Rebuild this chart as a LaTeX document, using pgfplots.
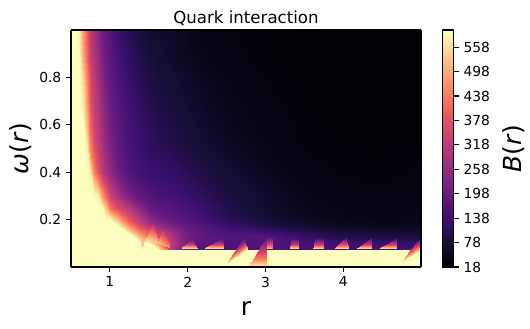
\documentclass[border=0pt]{standalone}
\usepackage{fontspec}
\setmainfont{DejaVu Sans}
\usepackage{pgfplots}
\pgfplotsset{compat=1.18}
\pgfplotsset{
  colormap={magma}{
    rgb255(0)=(0,0,4) rgb255(1)=(20,14,54) rgb255(2)=(59,15,112) rgb255(3)=(100,26,128)
    rgb255(4)=(140,41,129) rgb255(5)=(183,55,121) rgb255(6)=(222,73,104) rgb255(7)=(247,112,92)
    rgb255(8)=(254,159,109) rgb255(9)=(254,207,146) rgb255(10)=(252,253,191)
  }
}
\newcommand{\fs}[1]{\fontsize{#1}{#1}\selectfont}
\begin{document}
\begin{tikzpicture}
\path[use as bounding box] (-51.12bp,-44.64bp) rectangle (330.48bp,192.24bp);
\begin{axis}[
  scale only axis,
  width=252bp, height=170.64bp,
  view={0}{90},
  colormap name=magma,
  xmin=0.5, xmax=5, ymin=0, ymax=1,
  point meta min=18, point meta max=600,
  xtick={1,2,3,4}, ytick={0.2,0.4,0.6,0.8},
  tick pos=left, tick align=outside,
  major tick length=3.5pt,
  tick style={black, line width=0.8pt},
  axis line style={line width=0.8pt},
  axis on top,
  /pgf/number format/assume math mode=true,
  yticklabel style={/pgf/number format/fixed, /pgf/number format/fixed zerofill, /pgf/number format/precision=1},
  tick label style={font=\fs{10}},
  title={Quark interaction},
  title style={font=\fs{12}, yshift=-6.5bp},
  xlabel={r}, xlabel style={font=\fs{18}, yshift=-3.6bp},
  ylabel={\textit{ω}(\textit{r})}, ylabel style={font=\fs{18}}, ylabel shift=-1.5bp,
  colorbar,
  colorbar style={
    at={(parent axis.north east)}, anchor=north west, xshift=7.2bp,
    width=8bp,
    ytick={18,78,138,198,258,318,378,438,498,558},
    ytick pos=right, yticklabel pos=right, tick align=outside,
    major tick length=3.5pt,
    tick style={black, line width=0.8pt},
    axis line style={line width=0.8pt},
    /pgf/number format/assume math mode=true,
    tick label style={font=\fs{10}},
    ylabel={\textit{B}(\textit{r})}, ylabel style={font=\fs{18}}, ylabel shift=2bp,
  },
]
% main field, one line per omega
\addplot3[surf, shader=interp, mesh/cols=26] coordinates {
(0.5,0,600)(0.55,0,600)(0.6,0,600)(0.65,0,600)(0.7,0,600)(0.75,0,600)(0.8,0,600)(0.85,0,600)(0.9,0,600)(0.95,0,600)(1,0,600)(1.1,0,600)(1.2,0,600)(1.3,0,600)(1.4,0,600)(1.5,0,600)(1.6,0,600)(1.8,0,600)(2,0,600)(2.25,0,600)(2.5,0,600)(3,0,600)(3.5,0,600)(4,0,600)(4.5,0,600)(5,0,600)
(0.5,0.03,600)(0.55,0.03,600)(0.6,0.03,600)(0.65,0.03,600)(0.7,0.03,600)(0.75,0.03,600)(0.8,0.03,600)(0.85,0.03,600)(0.9,0.03,600)(0.95,0.03,600)(1,0.03,600)(1.1,0.03,600)(1.2,0.03,600)(1.3,0.03,600)(1.4,0.03,600)(1.5,0.03,600)(1.6,0.03,600)(1.8,0.03,600)(2,0.03,600)(2.25,0.03,600)(2.5,0.03,600)(3,0.03,600)(3.5,0.03,600)(4,0.03,600)(4.5,0.03,600)(5,0.03,600)
(0.5,0.076,600)(0.55,0.076,600)(0.6,0.076,600)(0.65,0.076,600)(0.7,0.076,600)(0.75,0.076,600)(0.8,0.076,600)(0.85,0.076,600)(0.9,0.076,600)(0.95,0.076,600)(1,0.076,600)(1.1,0.076,600)(1.2,0.076,600)(1.3,0.076,600)(1.4,0.076,600)(1.5,0.076,600)(1.6,0.076,600)(1.8,0.076,600)(2,0.076,600)(2.25,0.076,600)(2.5,0.076,600)(3,0.076,600)(3.5,0.076,600)(4,0.076,600)(4.5,0.076,600)(5,0.076,600)
(0.5,0.0765,600)(0.55,0.0765,600)(0.6,0.0765,600)(0.65,0.0765,600)(0.7,0.0765,600)(0.75,0.0765,600)(0.8,0.0765,600)(0.85,0.0765,600)(0.9,0.0765,600)(0.95,0.0765,600)(1,0.0765,600)(1.1,0.0765,600)(1.2,0.0765,600)(1.3,0.0765,600)(1.4,0.0765,600)(1.5,0.0765,600)(1.6,0.0765,600)(1.8,0.0765,300)(2,0.0765,180)(2.25,0.0765,160)(2.5,0.0765,155)(3,0.0765,165)(3.5,0.0765,150)(4,0.0765,150)(4.5,0.0765,145)(5,0.0765,140)
(0.5,0.1,600)(0.55,0.1,600)(0.6,0.1,600)(0.65,0.1,600)(0.7,0.1,600)(0.75,0.1,600)(0.8,0.1,600)(0.85,0.1,600)(0.9,0.1,600)(0.95,0.1,600)(1,0.1,600)(1.1,0.1,600)(1.2,0.1,600)(1.3,0.1,600)(1.4,0.1,600)(1.5,0.1,600)(1.6,0.1,500)(1.8,0.1,320)(2,0.1,200)(2.25,0.1,170)(2.5,0.1,160)(3,0.1,165)(3.5,0.1,150)(4,0.1,140)(4.5,0.1,130)(5,0.1,125)
(0.5,0.125,600)(0.55,0.125,600)(0.6,0.125,600)(0.65,0.125,600)(0.7,0.125,600)(0.75,0.125,600)(0.8,0.125,600)(0.85,0.125,600)(0.9,0.125,600)(0.95,0.125,600)(1,0.125,600)(1.1,0.125,600)(1.2,0.125,600)(1.3,0.125,600)(1.4,0.125,500)(1.5,0.125,430)(1.6,0.125,390)(1.8,0.125,300)(2,0.125,210)(2.25,0.125,180)(2.5,0.125,165)(3,0.125,170)(3.5,0.125,130)(4,0.125,100)(4.5,0.125,95)(5,0.125,90)
(0.5,0.15,600)(0.55,0.15,600)(0.6,0.15,600)(0.65,0.15,600)(0.7,0.15,600)(0.75,0.15,600)(0.8,0.15,600)(0.85,0.15,600)(0.9,0.15,600)(0.95,0.15,600)(1,0.15,600)(1.1,0.15,600)(1.2,0.15,600)(1.3,0.15,500)(1.4,0.15,425)(1.5,0.15,380)(1.6,0.15,330)(1.8,0.15,270)(2,0.15,200)(2.25,0.15,170)(2.5,0.15,155)(3,0.15,135)(3.5,0.15,100)(4,0.15,75)(4.5,0.15,70)(5,0.15,68)
(0.5,0.175,600)(0.55,0.175,600)(0.6,0.175,600)(0.65,0.175,600)(0.7,0.175,600)(0.75,0.175,600)(0.8,0.175,600)(0.85,0.175,600)(0.9,0.175,600)(0.95,0.175,600)(1,0.175,600)(1.1,0.175,600)(1.2,0.175,520)(1.3,0.175,420)(1.4,0.175,360)(1.5,0.175,310)(1.6,0.175,270)(1.8,0.175,230)(2,0.175,190)(2.25,0.175,165)(2.5,0.175,135)(3,0.175,100)(3.5,0.175,72)(4,0.175,55)(4.5,0.175,50)(5,0.175,52)
(0.5,0.2,600)(0.55,0.2,600)(0.6,0.2,600)(0.65,0.2,600)(0.7,0.2,600)(0.75,0.2,600)(0.8,0.2,600)(0.85,0.2,600)(0.9,0.2,600)(0.95,0.2,600)(1,0.2,600)(1.1,0.2,520)(1.2,0.2,425)(1.3,0.2,360)(1.4,0.2,310)(1.5,0.2,260)(1.6,0.2,225)(1.8,0.2,190)(2,0.2,165)(2.25,0.2,140)(2.5,0.2,110)(3,0.2,78)(3.5,0.2,55)(4,0.2,42)(4.5,0.2,38)(5,0.2,40)
(0.5,0.25,600)(0.55,0.25,600)(0.6,0.25,600)(0.65,0.25,600)(0.7,0.25,600)(0.75,0.25,600)(0.8,0.25,600)(0.85,0.25,600)(0.9,0.25,600)(0.95,0.25,520)(1,0.25,430)(1.1,0.25,360)(1.2,0.25,330)(1.3,0.25,290)(1.4,0.25,240)(1.5,0.25,200)(1.6,0.25,180)(1.8,0.25,170)(2,0.25,150)(2.25,0.25,125)(2.5,0.25,100)(3,0.25,68)(3.5,0.25,47)(4,0.25,38)(4.5,0.25,35)(5,0.25,38)
(0.5,0.3,600)(0.55,0.3,600)(0.6,0.3,600)(0.65,0.3,600)(0.7,0.3,600)(0.75,0.3,600)(0.8,0.3,600)(0.85,0.3,578)(0.9,0.3,480)(0.95,0.3,410)(1,0.3,350)(1.1,0.3,290)(1.2,0.3,240)(1.3,0.3,205)(1.4,0.3,185)(1.5,0.3,170)(1.6,0.3,158)(1.8,0.3,145)(2,0.3,130)(2.25,0.3,110)(2.5,0.3,90)(3,0.3,62)(3.5,0.3,42)(4,0.3,33)(4.5,0.3,31)(5,0.3,34)
(0.5,0.4,600)(0.55,0.4,600)(0.6,0.4,600)(0.65,0.4,600)(0.7,0.4,600)(0.75,0.4,575)(0.8,0.4,450)(0.85,0.4,380)(0.9,0.4,320)(0.95,0.4,285)(1,0.4,255)(1.1,0.4,205)(1.2,0.4,178)(1.3,0.4,158)(1.4,0.4,145)(1.5,0.4,136)(1.6,0.4,130)(1.8,0.4,122)(2,0.4,106)(2.25,0.4,88)(2.5,0.4,72)(3,0.4,50)(3.5,0.4,33)(4,0.4,27)(4.5,0.4,26)(5,0.4,29)
(0.5,0.5,600)(0.55,0.5,600)(0.6,0.5,600)(0.65,0.5,600)(0.7,0.5,580)(0.75,0.5,455)(0.8,0.5,382)(0.85,0.5,330)(0.9,0.5,295)(0.95,0.5,260)(1,0.5,230)(1.1,0.5,190)(1.2,0.5,165)(1.3,0.5,145)(1.4,0.5,130)(1.5,0.5,120)(1.6,0.5,112)(1.8,0.5,102)(2,0.5,88)(2.25,0.5,72)(2.5,0.5,58)(3,0.5,41)(3.5,0.5,28)(4,0.5,23)(4.5,0.5,22)(5,0.5,24)
(0.5,0.6,600)(0.55,0.6,600)(0.6,0.6,600)(0.65,0.6,600)(0.7,0.6,510)(0.75,0.6,410)(0.8,0.6,345)(0.85,0.6,315)(0.9,0.6,275)(0.95,0.6,240)(1,0.6,215)(1.1,0.6,180)(1.2,0.6,160)(1.3,0.6,142)(1.4,0.6,125)(1.5,0.6,112)(1.6,0.6,102)(1.8,0.6,90)(2,0.6,76)(2.25,0.6,61)(2.5,0.6,50)(3,0.6,36)(3.5,0.6,25)(4,0.6,21)(4.5,0.6,20)(5,0.6,20)
(0.5,0.7,600)(0.55,0.7,600)(0.6,0.7,600)(0.65,0.7,570)(0.7,0.7,475)(0.75,0.7,385)(0.8,0.7,330)(0.85,0.7,300)(0.9,0.7,262)(0.95,0.7,225)(1,0.7,200)(1.1,0.7,170)(1.2,0.7,150)(1.3,0.7,130)(1.4,0.7,114)(1.5,0.7,102)(1.6,0.7,92)(1.8,0.7,80)(2,0.7,67)(2.25,0.7,54)(2.5,0.7,44)(3,0.7,32)(3.5,0.7,23)(4,0.7,20)(4.5,0.7,19)(5,0.7,19)
(0.5,0.8,600)(0.55,0.8,600)(0.6,0.8,600)(0.65,0.8,542)(0.7,0.8,445)(0.75,0.8,367)(0.8,0.8,315)(0.85,0.8,285)(0.9,0.8,240)(0.95,0.8,210)(1,0.8,190)(1.1,0.8,160)(1.2,0.8,138)(1.3,0.8,120)(1.4,0.8,104)(1.5,0.8,92)(1.6,0.8,83)(1.8,0.8,72)(2,0.8,60)(2.25,0.8,48)(2.5,0.8,39)(3,0.8,28)(3.5,0.8,21)(4,0.8,19)(4.5,0.8,18)(5,0.8,18)
(0.5,0.9,600)(0.55,0.9,600)(0.6,0.9,595)(0.65,0.9,490)(0.7,0.9,405)(0.75,0.9,335)(0.8,0.9,295)(0.85,0.9,265)(0.9,0.9,225)(0.95,0.9,195)(1,0.9,178)(1.1,0.9,148)(1.2,0.9,126)(1.3,0.9,108)(1.4,0.9,92)(1.5,0.9,82)(1.6,0.9,74)(1.8,0.9,60)(2,0.9,50)(2.25,0.9,39)(2.5,0.9,32)(3,0.9,24)(3.5,0.9,20)(4,0.9,18)(4.5,0.9,18)(5,0.9,18)
(0.5,1,600)(0.55,1,600)(0.6,1,580)(0.65,1,480)(0.7,1,395)(0.75,1,320)(0.8,1,280)(0.85,1,250)(0.9,1,205)(0.95,1,185)(1,1,165)(1.1,1,134)(1.2,1,112)(1.3,1,95)(1.4,1,82)(1.5,1,74)(1.6,1,68)(1.8,1,58)(2,1,46)(2.25,1,36)(2.5,1,30)(3,1,23)(3.5,1,19)(4,1,18)(4.5,1,18)(5,1,18)
};
% faint spikes left of the sawteeth, three points per triangle
\addplot3[patch, shader=interp] coordinates {
(1.385,0.125,520)(1.44,0.125,480)(1.41,0.07,580)
(1.45,0.114,560)(1.557,0.177,320)(1.62,0.1,540)
(1.62,0.1,540)(1.68,0.164,280)(1.77,0.08,450)
};
% sawteeth along the lower edge, each one a two-column strip from base to tip
\addplot3[surf, shader=interp, mesh/cols=2] coordinates {
(1.914,0.076,600)(2.124,0.076,600)(1.946,0.087,430)(2.104,0.087,430)(1.979,0.0985,320)(2.084,0.0985,320)(2.011,0.11,230)(2.063,0.11,230)(2.043,0.121,170)(2.044,0.121,170)
};
\addplot3[surf, shader=interp, mesh/cols=2] coordinates {
(2.2,0.076,600)(2.459,0.076,600)(2.259,0.087,430)(2.454,0.087,430)(2.319,0.0985,320)(2.448,0.0985,320)(2.378,0.11,230)(2.443,0.11,230)(2.437,0.121,170)(2.438,0.121,170)
};
\addplot3[surf, shader=interp, mesh/cols=2] coordinates {
(2.5,0.0155,560)(2.77,0.079,560)(2.552,0.041,430)(2.754,0.089,430)(2.604,0.067,320)(2.739,0.0985,320)(2.655,0.092,230)(2.723,0.108,230)(2.707,0.118,170)(2.708,0.118,170)
};
\addplot3[surf, shader=interp, mesh/cols=2] coordinates {
(2.79,0.0084,560)(3.017,0.0084,560)(2.847,0.037,430)(3.017,0.037,430)(2.904,0.066,340)(3.017,0.066,340)(2.96,0.095,240)(3.017,0.095,240)(3.016,0.124,170)(3.017,0.124,170)
};
\addplot3[surf, shader=interp, mesh/cols=2] coordinates {
(3.017,0.076,560)(3.05,0.076,520)(3.018,0.1,330)(3.05,0.1,330)(3.02,0.125,170)(3.045,0.125,170)
};
\addplot3[surf, shader=interp, mesh/cols=2] coordinates {
(3.055,0.076,560)(3.09,0.076,500)(3.056,0.1,330)(3.085,0.1,330)(3.06,0.125,170)(3.08,0.125,170)
};
\addplot3[surf, shader=interp, mesh/cols=2] coordinates {
(3.317,0.076,600)(3.424,0.076,600)(3.32,0.087,430)(3.42,0.087,430)(3.323,0.098,320)(3.417,0.098,320)(3.327,0.109,230)(3.413,0.109,230)(3.33,0.12,170)(3.41,0.12,170)
};
\addplot3[surf, shader=interp, mesh/cols=2] coordinates {
(3.617,0.076,600)(3.746,0.076,600)(3.623,0.087,430)(3.742,0.087,430)(3.628,0.098,320)(3.738,0.098,320)(3.634,0.109,230)(3.734,0.109,230)(3.64,0.12,170)(3.73,0.12,170)
};
\addplot3[surf, shader=interp, mesh/cols=2] coordinates {
(3.883,0.076,600)(4.067,0.076,600)(3.92,0.088,430)(4.059,0.088,430)(3.958,0.1,320)(4.05,0.1,320)(3.996,0.112,230)(4.042,0.112,230)(4.033,0.124,170)(4.034,0.124,170)
};
\addplot3[surf, shader=interp, mesh/cols=2] coordinates {
(4.162,0.076,600)(4.368,0.076,600)(4.211,0.087,430)(4.366,0.087,430)(4.26,0.0985,320)(4.364,0.0985,320)(4.31,0.11,230)(4.361,0.11,230)(4.359,0.121,170)(4.36,0.121,170)
};
\addplot3[surf, shader=interp, mesh/cols=2] coordinates {
(4.445,0.076,600)(4.69,0.076,600)(4.506,0.087,430)(4.69,0.087,430)(4.568,0.0985,320)(4.69,0.0985,320)(4.629,0.11,230)(4.69,0.11,230)(4.689,0.121,170)(4.69,0.121,170)
};
\addplot3[surf, shader=interp, mesh/cols=2] coordinates {
(4.754,0.0253,560)(5,0.076,560)(4.816,0.05,430)(5,0.088,430)(4.877,0.075,320)(5,0.1,320)(4.939,0.1,230)(5,0.113,230)(4.999,0.125,150)(5,0.125,150)
};
% thin bright strip along the right edge
\addplot3[surf, shader=interp, mesh/cols=2] coordinates {
(4.985,0.125,500)(5,0.125,500)
(4.985,0.25,400)(5,0.25,400)
(4.985,0.4,320)(5,0.4,320)
(4.985,0.6,230)(5,0.6,230)
(4.985,0.8,110)(5,0.8,110)
(4.985,0.95,30)(5,0.95,30)
};
\end{axis}
\end{tikzpicture}
\end{document}
